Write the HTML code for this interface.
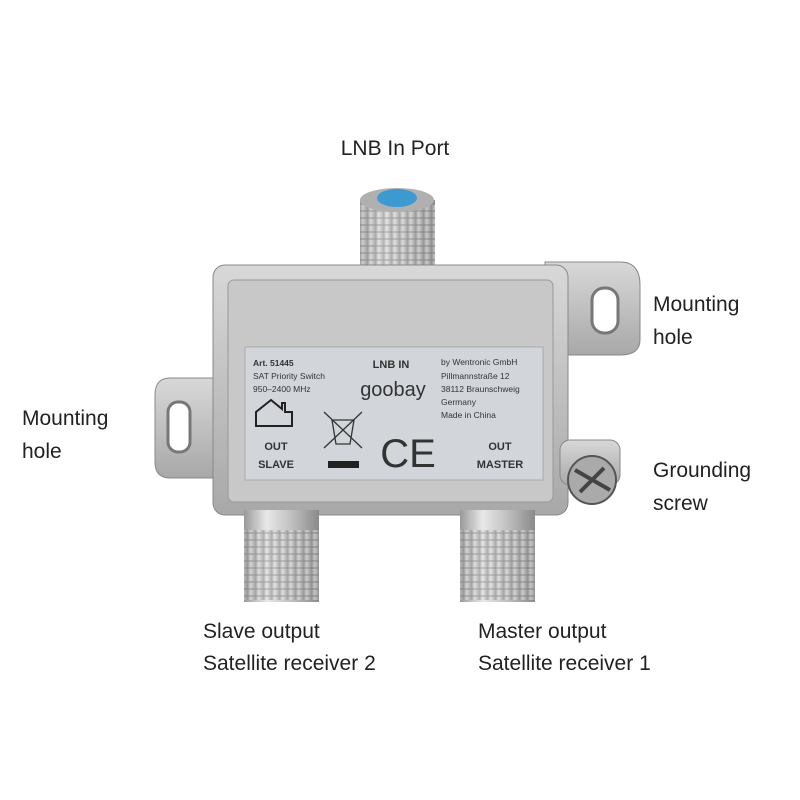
<!DOCTYPE html>
<html><head><style>
body{margin:0;background:#fff;}
svg{display:block}
.t{font-family:"Liberation Sans",sans-serif;font-size:21px;fill:#222}
.l{font-family:"Liberation Sans",sans-serif;fill:#333}
</style></head><body>
<svg width="800" height="800" viewBox="0 0 800 800">
<defs>
<linearGradient id="m" x1="0" y1="0" x2="1" y2="0">
<stop offset="0" stop-color="#9a9a9a"/><stop offset="0.3" stop-color="#e8e8e8"/><stop offset="0.6" stop-color="#c4c4c4"/><stop offset="1" stop-color="#8a8a8a"/></linearGradient>
<linearGradient id="b" x1="0" y1="0" x2="0" y2="1">
<stop offset="0" stop-color="#d8d8d8"/><stop offset="1" stop-color="#a8a8a8"/></linearGradient>
<pattern id="th" width="8" height="7" patternUnits="userSpaceOnUse"><rect width="8" height="7" fill="url(#m)"/><rect y="0" width="80" height="2" fill="#777" opacity="0.5"/></pattern>
</defs>
<text class="t" x="395" y="155" text-anchor="middle">LNB In Port</text>
<text class="t" x="653" y="311">Mounting</text><text class="t" x="653" y="344">hole</text>
<text class="t" x="22" y="425">Mounting</text><text class="t" x="22" y="458">hole</text>
<text class="t" x="653" y="477">Grounding</text><text class="t" x="653" y="510">screw</text>
<text class="t" x="203" y="638">Slave output</text><text class="t" x="203" y="670">Satellite receiver 2</text>
<text class="t" x="478" y="638">Master output</text><text class="t" x="478" y="670">Satellite receiver 1</text>

<!-- top connector -->
<rect x="360" y="200" width="75" height="75" fill="url(#m)"/>
<rect x="360" y="205" width="75" height="65" fill="url(#th)" opacity="0.6"/>
<rect x="345" y="265" width="100" height="25" fill="url(#m)"/>
<ellipse cx="397" cy="200" rx="37" ry="12" fill="#b0b0b0"/>
<ellipse cx="397" cy="198" rx="20" ry="9" fill="#3c9ad0"/>
<!-- right tab -->
<path d="M545 262 L620 262 Q640 262 640 285 L640 340 Q640 355 620 355 L545 355 Z" fill="url(#b)" stroke="#888"/>
<rect x="592" y="288" width="26" height="45" rx="12" fill="#fff" stroke="#777" stroke-width="3"/>
<!-- left tab -->
<path d="M232 378 L170 378 Q155 378 155 395 L155 462 Q155 478 170 478 L232 478 Z" fill="url(#b)" stroke="#888"/>
<rect x="168" y="402" width="22" height="50" rx="10" fill="#fff" stroke="#777" stroke-width="3"/>
<!-- body -->
<rect x="213" y="265" width="355" height="250" rx="12" fill="url(#b)" stroke="#888"/>
<rect x="228" y="280" width="325" height="222" rx="6" fill="#c8c8c8" stroke="#999"/>
<!-- bottom connectors -->
<rect x="244" y="510" width="75" height="92" fill="url(#m)"/>
<rect x="244" y="530" width="75" height="70" fill="url(#th)" opacity="0.6"/>
<rect x="460" y="510" width="75" height="92" fill="url(#m)"/>
<rect x="460" y="530" width="75" height="70" fill="url(#th)" opacity="0.6"/>
<!-- screw -->
<rect x="560" y="440" width="60" height="45" rx="10" fill="url(#b)" stroke="#888"/>
<circle cx="592" cy="480" r="24" fill="#aaa" stroke="#555" stroke-width="2"/>
<path d="M575 470 L610 490 M580 492 L604 468" stroke="#444" stroke-width="4"/>
<!-- label -->
<rect x="245" y="347" width="298" height="133" fill="#d2d6db" stroke="#aaa"/>
<g class="l" font-size="8.5">
<text x="253" y="366" font-weight="bold">Art. 51445</text>
<text x="253" y="379">SAT Priority Switch</text>
<text x="253" y="392">950–2400 MHz</text>
<text x="441" y="365">by Wentronic GmbH</text>
<text x="441" y="379">Pillmannstraße 12</text>
<text x="441" y="392">38112 Braunschweig</text>
<text x="441" y="405">Germany</text>
<text x="441" y="418">Made in China</text>
</g>
<text class="l" x="391" y="368" font-size="11" font-weight="bold" text-anchor="middle" fill="#222">LNB IN</text>
<text class="l" x="393" y="396" font-size="20" text-anchor="middle" fill="#333">goobay</text>
<path d="M256 426 L256 412 L271 400 L282 409 L282 403 L285 403 L285 412 L292 412 L292 426 Z" fill="none" stroke="#222" stroke-width="2"/>
<g class="l" font-size="11" font-weight="bold" fill="#222" text-anchor="middle">
<text x="276" y="450">OUT</text><text x="276" y="468">SLAVE</text>
<text x="500" y="450">OUT</text><text x="500" y="468">MASTER</text>
</g>
<path d="M324 412 L362 448 M362 412 L324 448 M332 420 L354 420 L350 444 L336 444 Z" fill="none" stroke="#333" stroke-width="1.3"/>
<rect x="328" y="461" width="31" height="7" fill="#222"/>
<text class="l" x="408" y="467" font-size="40" text-anchor="middle" fill="#111">CE</text>
</svg>
</body></html>
